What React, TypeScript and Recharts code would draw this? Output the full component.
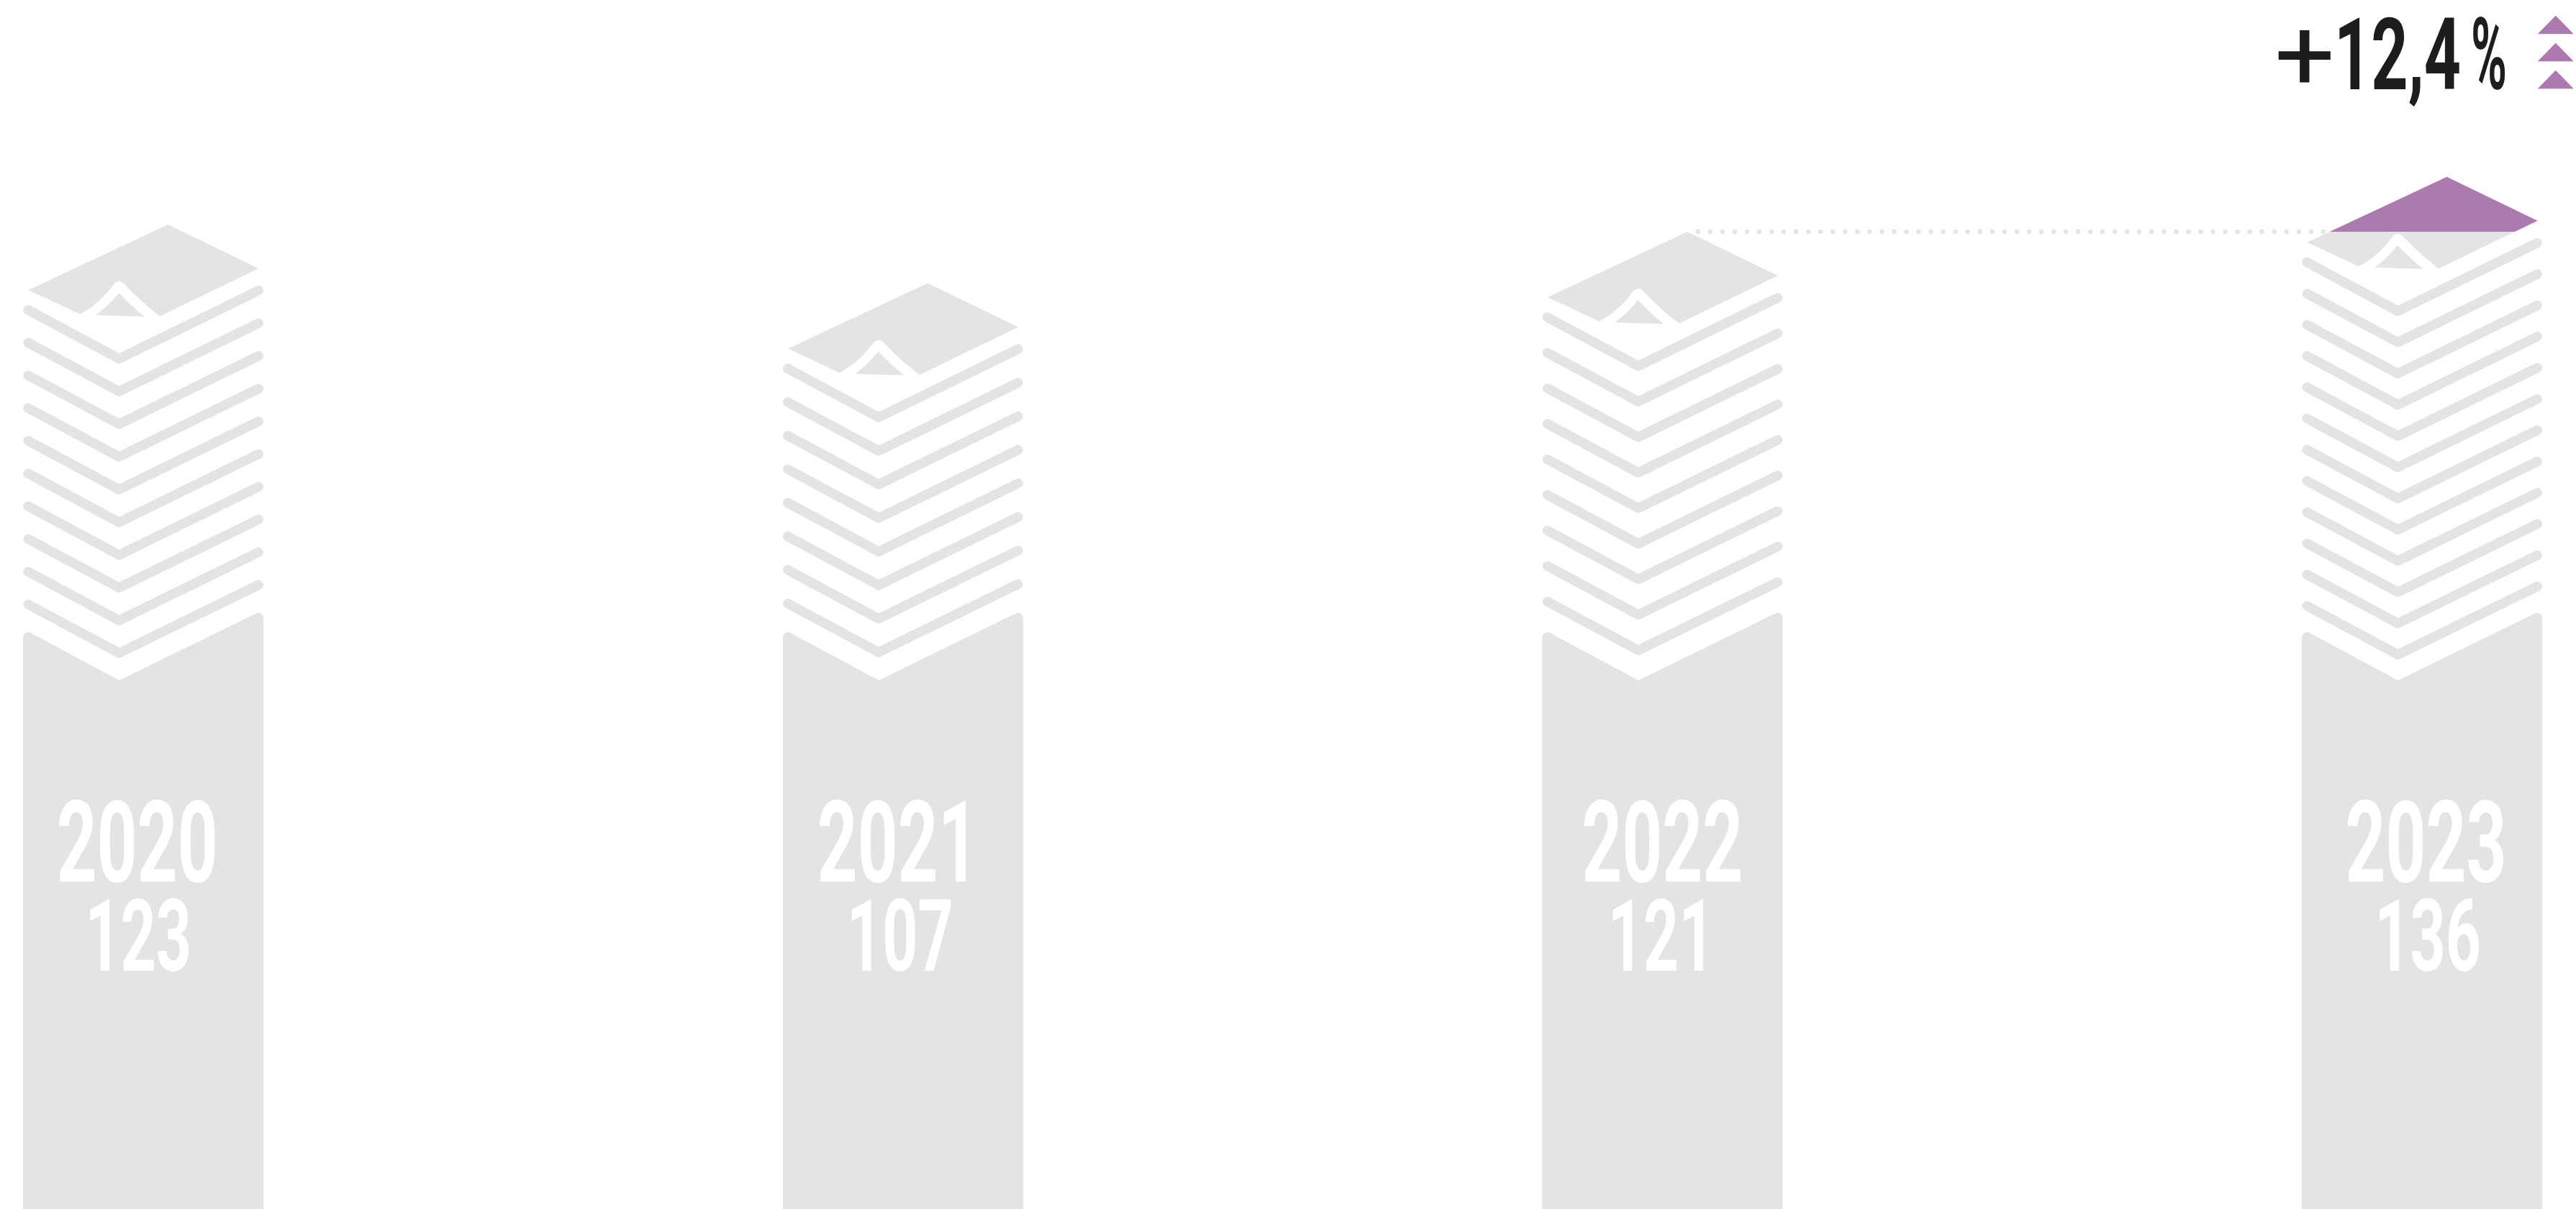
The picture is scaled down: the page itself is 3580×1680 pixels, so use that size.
import React from "react";
import { BarChart, Bar, XAxis, YAxis } from "recharts";

const years = [2020, 2021, 2022, 2023];
const values = [123, 107, 121, 136];
const sheetCounts = [10, 8, 9, 12];
const arrowRows = [0, 1, 2];

const data = years.map((year, i) => ({ year, value: values[i], sheets: sheetCounts[i], prev: i > 0 ? values[i - 1] : null }));

const yearLabelShift = [158.7, 160, 166.7, 172.4];
const valueLabelShift = [160, 163, 165, 175];

const W = 3580;
const H = 1680;
const GRAY = "#e4e4e4";
const PURPLE = "#ad79b1";
const DARK = "#1d1d1b";
const FLOOR = -145.75;
const CEIL = 140;
const FONT = "Roboto,'Liberation Sans Narrow',sans-serif";

const PaperStack = (props: any) => {
  const { x, y, width, height, payload, index } = props;
  const ppu = height / (payload.value - FLOOR);
  const cx = x + 133.3;
  const xL = x + 7;
  const xR = x + width - 7;
  const baseLine = 953;
  const topLine = y + 186.5;
  const pitch = (baseLine - topLine) / payload.sheets;
  const chevron = (c: number) => `M${xL} ${c - 67.7}L${cx} ${c}L${xR} ${c - 94.7}`;
  const T = y + 185.5;
  const pt = (dx: number, dy: number) => `${cx + dx} ${T + dy}`;
  const sheet =
    `M${pt(-126, -94.5)}L${pt(68, -185.5)}L${pt(194, -124.5)}L${pt(56.7, -58)}` +
    `Q${pt(26, -82)} ${pt(8, -102)}Q${pt(0, -111)} ${pt(-8, -102)}Q${pt(-26, -76)} ${pt(-54.5, -61)}Z`;
  const fold = `M${pt(-32.5, -59.5)}Q${pt(-14, -73)} ${pt(-0.3, -90.5)}Q${pt(14, -75)} ${pt(35, -57.5)}Z`;
  const lines = [];
  for (let i = 0; i < payload.sheets; i++) lines.push(topLine + i * pitch);

  let rise = null;
  let dots = null;
  if (payload.value === Math.max(...values) && payload.prev != null) {
    const yc = y + (payload.value - payload.prev) * ppu;
    const ax = cx + 68, ay = T - 185.5;
    const lx = cx - 126, ly = T - 94.5;
    const rx = cx + 194, ry = T - 124.5;
    const bx = cx + 56.7, by = T - 58;
    const xl = ax + ((yc - ay) / (ly - ay)) * (lx - ax);
    const xr = rx + ((yc - ry) / (by - ry)) * (bx - rx);
    const step = (W - 199 - 214) / (years.length - 1);
    rise = <polygon points={`${xl},${yc} ${ax},${ay} ${rx},${ry} ${xr},${yc}`} fill={PURPLE} />;
    dots = (
      <line x1={ax - step + 15} y1={yc} x2={rx - 25} y2={yc} stroke={GRAY} strokeWidth={6.5} strokeLinecap="round" strokeDasharray="0 17.04" />
    );
  }

  return (
    <g>
      {dots}
      <path d={sheet} fill={GRAY} />
      <path d={fold} fill={GRAY} />
      {rise}
      {lines.map((c, i) => (
        <path key={i} d={chevron(c)} fill="none" stroke={GRAY} strokeWidth={13.5} strokeLinecap="round" strokeLinejoin="round" />
      ))}
      <path d={chevron(baseLine)} fill="none" stroke={GRAY} strokeWidth={13.5} strokeLinecap="round" strokeLinejoin="round" />
      <path d={`M${x} ${baseLine - 67.7}L${cx} ${baseLine}L${x + width} ${baseLine - 94.7}L${x + width} ${y + height}L${x} ${y + height}Z`} fill={GRAY} />
      <text x={x + yearLabelShift[index]} y={1225} textAnchor="middle" fontFamily={FONT} fontWeight={700} fontSize={158} fill="#ffffff" textLength={224} lengthAdjust="spacingAndGlyphs">
        {payload.year}
      </text>
      <text x={x + valueLabelShift[index]} y={1349} textAnchor="middle" fontFamily={FONT} fontWeight={700} fontSize={140} fill="#ffffff" textLength={148} lengthAdjust="spacingAndGlyphs">
        {payload.value}
      </text>
    </g>
  );
};

export default function App() {
  return (
    <div style={{ position: "absolute", left: 0, top: 0, width: W, height: H, background: "#fff" }}>
      <BarChart width={W} height={H} data={data} margin={{ top: 225.4, right: 214, bottom: 0, left: 199 }}>
        <XAxis dataKey="year" type="number" domain={[years[0], years[years.length - 1]]} hide />
        <YAxis domain={[FLOOR, CEIL]} hide />
        <Bar dataKey={(d: any) => [FLOOR, d.value]} barSize={334} isAnimationActive={false} shape={PaperStack} />
        <text y={124} fontFamily={FONT} fontWeight={700} fontSize={139} fill={DARK}>
          <tspan x={3161} fontWeight={400} textLength={84} lengthAdjust="spacingAndGlyphs">+</tspan>
          <tspan x={3244} textLength={176} lengthAdjust="spacingAndGlyphs">12,4</tspan>
          <tspan> </tspan>
          <tspan x={3434} textLength={50} lengthAdjust="spacingAndGlyphs">%</tspan>
        </text>
        {arrowRows.map((r) => (
          <polygon key={r} points={`3526.7,${47.3 + r * 38} 3551.7,${21.7 + r * 38} 3576.7,${47.3 + r * 38}`} fill={PURPLE} />
        ))}
      </BarChart>
    </div>
  );
}
